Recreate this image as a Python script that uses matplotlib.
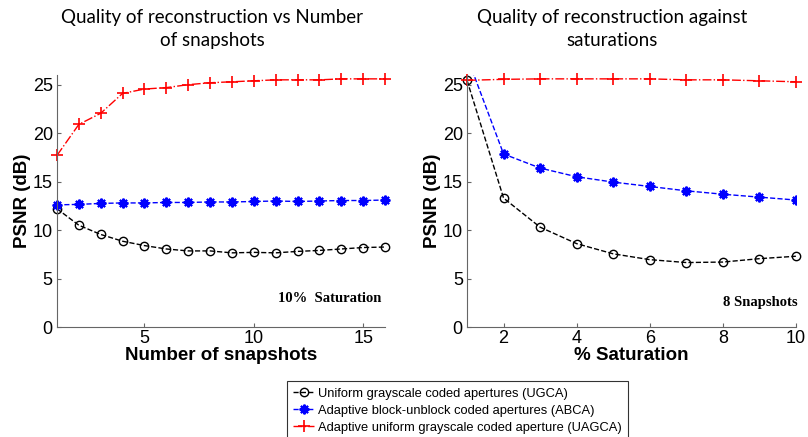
import matplotlib.pyplot as plt

# left panel: PSNR vs number of snapshots (10% saturation)
snapshots = list(range(1, 17))
ugca_snap = [12.2, 10.5, 9.55, 8.85, 8.4, 8.05, 7.85, 7.85, 7.65, 7.7, 7.65, 7.8, 7.9, 8.05, 8.2, 8.25]
abca_snap = [12.6, 12.65, 12.75, 12.8, 12.8, 12.85, 12.85, 12.9, 12.9, 12.95, 13.0, 12.95, 13.0, 13.05, 13.05, 13.1]
uagca_snap = [17.7, 20.9, 22.05, 24.1, 24.55, 24.7, 25.0, 25.2, 25.3, 25.4, 25.5, 25.5, 25.5, 25.6, 25.6, 25.6]

# right panel: PSNR vs % saturation (8 snapshots)
saturation = list(range(1, 11))
ugca_sat = [25.45, 13.3, 10.3, 8.6, 7.55, 6.95, 6.65, 6.7, 7.05, 7.3]
abca_sat = [27.9, 17.85, 16.4, 15.5, 14.95, 14.5, 14.05, 13.7, 13.4, 13.1]
uagca_sat = [25.45, 25.55, 25.6, 25.6, 25.6, 25.6, 25.5, 25.5, 25.4, 25.3]

labels = [
    "Uniform grayscale coded apertures (UGCA)",
    "Adaptive block-unblock coded apertures (ABCA)",
    "Adaptive uniform grayscale coded aperture (UAGCA)",
]

plt.rcParams["font.family"] = ["Liberation Sans", "DejaVu Sans"]

fig = plt.figure(figsize=(8.08, 4.37), dpi=100)
ax1 = fig.add_axes([0.0705, 0.2517, 0.406, 0.5767])
ax2 = fig.add_axes([0.578, 0.2517, 0.407, 0.5767])

star = (8, 2, 0)


def draw(ax, x, ugca, abca, uagca, clip_blue=False):
    h1, = ax.plot(x, ugca, "k--", marker="o", mfc="none", ms=6, lw=1.0, mew=1.0, clip_on=False)
    h2, = ax.plot(x, abca, "b--", marker=star, ms=7, lw=1.0, mew=1.5, clip_on=clip_blue)
    h3, = ax.plot(x, uagca, "r-.", marker="+", ms=8, lw=1.0, mew=1.2, clip_on=False)
    ax.set_ylim(0, 26)
    ax.set_yticks([0, 5, 10, 15, 20, 25])
    for s in ["top", "right"]:
        ax.spines[s].set_visible(False)
    for s in ["left", "bottom"]:
        ax.spines[s].set_color("#666666")
        ax.spines[s].set_linewidth(0.8)
    ax.tick_params(direction="in", length=3, labelsize=13, color="#666666", pad=3)
    ax.tick_params(axis="x", pad=2)
    ax.set_ylabel("PSNR (dB)", fontsize=13.5, fontweight="bold", labelpad=1)
    return h1, h2, h3


handles = draw(ax1, snapshots, ugca_snap, abca_snap, uagca_snap)
ax1.set_xlim(1, 16)
ax1.set_xticks([5, 10, 15])
ax1.set_xlabel("Number of snapshots", fontsize=13.5, fontweight="bold", labelpad=0)
ax1.text(0.99, 0.115, "10%  Saturation", transform=ax1.transAxes, ha="right", va="center",
         family="Liberation Serif", fontweight="bold", fontsize=10.5)

draw(ax2, saturation, ugca_sat, abca_sat, uagca_sat, clip_blue=True)
ax2.set_xlim(1, 10)
ax2.set_xticks([2, 4, 6, 8, 10])
ax2.set_xlabel("% Saturation", fontsize=13.5, fontweight="bold", labelpad=0)
ax2.text(1.006, 0.099, "8 Snapshots", transform=ax2.transAxes, ha="right", va="center",
         family="Liberation Serif", fontweight="bold", fontsize=10.5)

# titles placed in figure coordinates
fig.text(212 / 808, 1 - 29 / 437, "Quality of reconstruction vs Number\nof snapshots",
         family="Lato", fontsize=13.5, ha="center", va="center", linespacing=1.4)
fig.text(612 / 808, 1 - 29 / 437, "Quality of reconstruction against\nsaturations",
         family="Lato", fontsize=13.5, ha="center", va="center", linespacing=1.4)

leg = fig.legend(handles, labels, loc="upper left", bbox_to_anchor=(287 / 808, 1 - 381 / 437),
                 fontsize=9.3, frameon=True, fancybox=False, edgecolor="black",
                 handlelength=1.6, handletextpad=0.3, labelspacing=0.4,
                 borderpad=0.5, borderaxespad=0)
leg.get_frame().set_linewidth(0.8)

fig.savefig("out.png", dpi=100)
